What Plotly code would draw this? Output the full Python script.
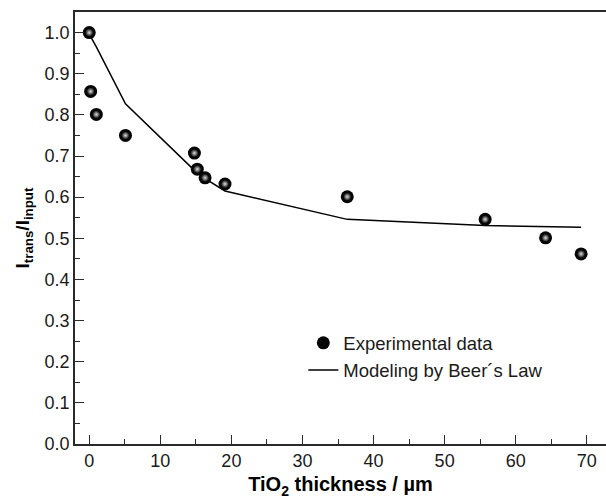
import plotly.graph_objects as go

# Experimental data
thickness = [0.0, 0.2, 1.0, 5.1, 14.8, 15.2, 16.3, 19.1, 36.3, 55.7, 64.2, 69.2]
ratio_exp = [1.0, 0.857, 0.801, 0.750, 0.707, 0.668, 0.647, 0.632, 0.601, 0.546, 0.501, 0.462]
# Beer's law model evaluated at the same thicknesses
ratio_model = [1.0, 0.99, 0.965, 0.827, 0.665, 0.66, 0.645, 0.615, 0.546, 0.531, 0.528, 0.527]

x_ticks = [0, 10, 20, 30, 40, 50, 60, 70]
y_ticks = [0.0, 0.1, 0.2, 0.3, 0.4, 0.5, 0.6, 0.7, 0.8, 0.9, 1.0]

FONT = "Liberation Sans, Arial, sans-serif"
AX = "#2a2a2a"

fig = go.Figure()
fig.add_trace(go.Scatter(
    x=thickness, y=ratio_model, mode="lines",
    line=dict(color="black", width=1.5),
    name="Modeling by Beer´s Law", legendrank=2,
))
fig.add_trace(go.Scatter(
    x=thickness, y=ratio_exp, mode="markers",
    marker=dict(size=13, color="#050505", line=dict(width=0)),
    name="Experimental data", legendrank=1,
))
fig.add_trace(go.Scatter(
    x=thickness, y=ratio_exp, mode="markers",
    marker=dict(size=8, color="#050505", gradient=dict(type="radial", color="#e0e0e0"),
                line=dict(width=0)),
    showlegend=False, hoverinfo="skip",
))

axis_common = dict(
    showgrid=False, zeroline=False, showline=True, linecolor=AX, linewidth=1.6,
    ticks="inside", ticklen=9, tickwidth=1.4, tickcolor=AX,
    tickfont=dict(family=FONT, size=18, color="#1a1a1a"),
)

fig.update_layout(
    width=606, height=500,
    margin=dict(l=75, r=0, t=12, b=56),
    plot_bgcolor="white", paper_bgcolor="white",
    font=dict(family=FONT, color="black"),
    xaxis=dict(
        **axis_common, range=[-2, 72.7], tickvals=x_ticks, mirror=True,
        minor=dict(ticks="inside", ticklen=5, tickwidth=1.2, tickcolor=AX, dtick=5, tick0=0),
        title=dict(text="<b>TiO<sub>2</sub> thickness / µm</b>", font=dict(family=FONT, size=20), standoff=7),
    ),
    yaxis=dict(
        **axis_common, range=[0, 1.05], tickvals=y_ticks, tickformat=".1f", mirror=False,
        minor=dict(ticks="inside", ticklen=5, tickwidth=1.2, tickcolor=AX, dtick=0.05, tick0=0),
        title=dict(text="<b>I<sub>trans</sub>/I<sub>input</sub></b>", font=dict(family=FONT, size=19), standoff=10),
    ),
    legend=dict(
        x=0.43, y=0.277, xanchor="left", yanchor="top",
        bgcolor="rgba(0,0,0,0)", font=dict(family=FONT, size=18.5, color="#1a1a1a"),
        itemsizing="trace",
    ),
    showlegend=True,
)

fig.write_html("out.html")
